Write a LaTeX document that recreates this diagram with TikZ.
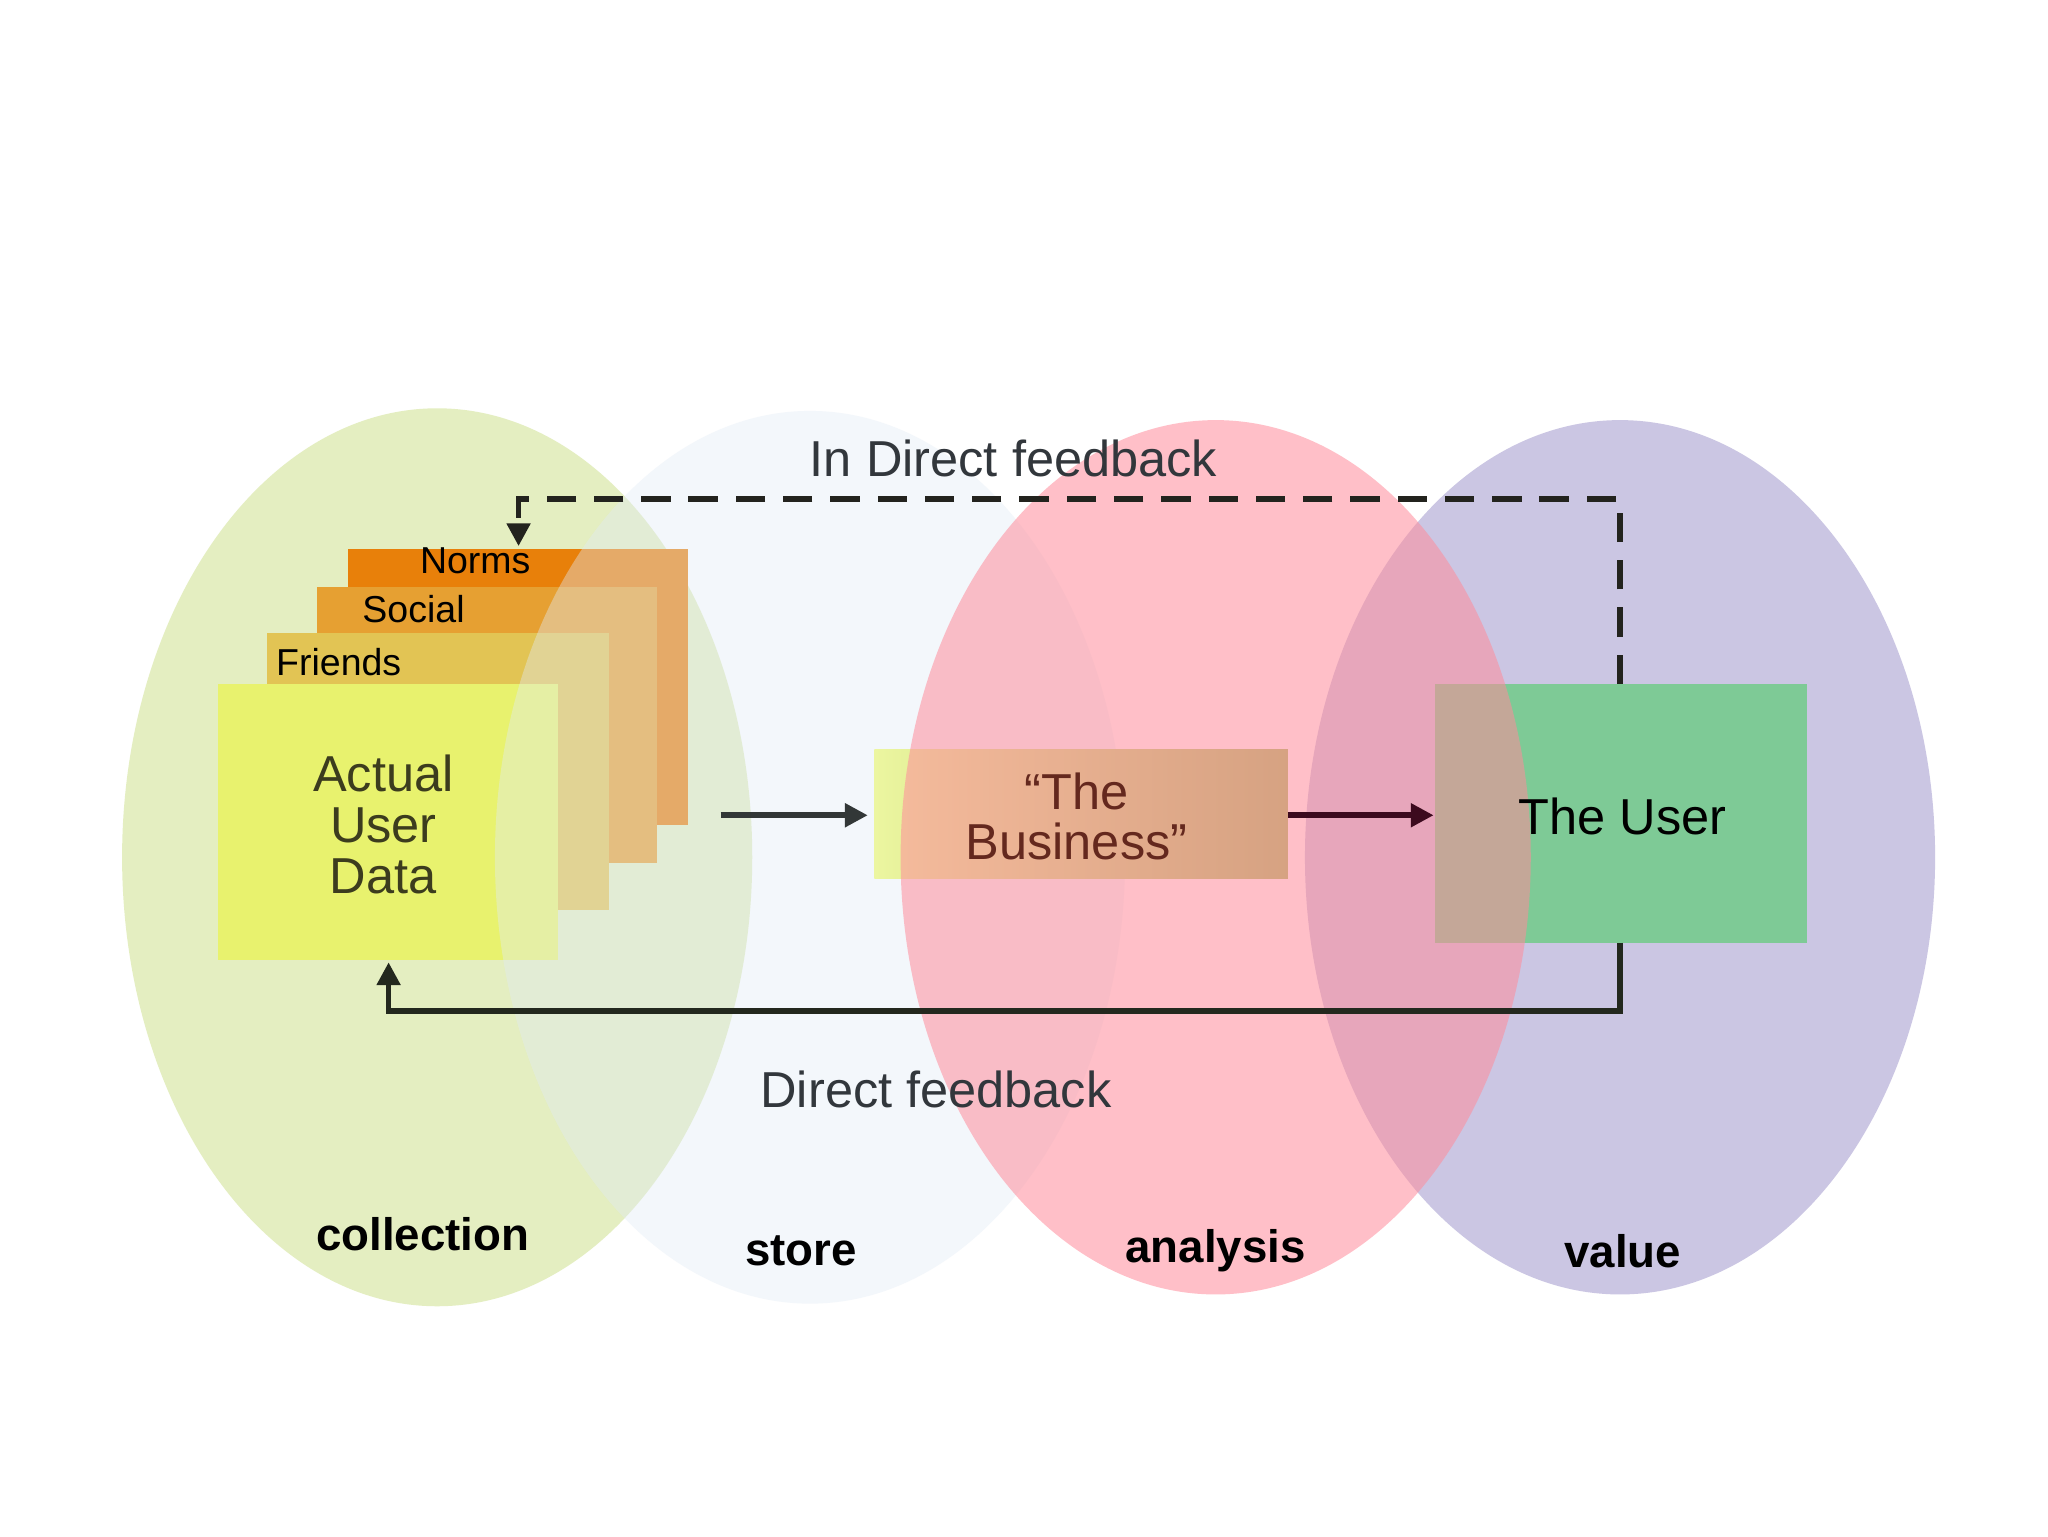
\documentclass[tikz,border=0pt]{standalone}
\usepackage{fontspec}
\setmainfont{Liberation Sans}
\usetikzlibrary{arrows.meta}
\begin{document}
\begin{tikzpicture}[x=0.0283cm,y=-0.0283cm,
  ell/.style={draw=none},
  lab/.style={font=\bfseries\fontsize{28}{32}\selectfont},
  txt/.style={font=\fontsize{31}{35}\selectfont},
  small/.style={font=\fontsize{23}{26}\selectfont},
  card/.style={draw=none,anchor=north west,inner sep=0pt},
  arr/.style={line width=3.4pt,-{Triangle[length=14pt,width=14pt]}}]
\useasboundingbox (0,0) rectangle (1560,1170);
\fill[white] (0,0) rectangle (1560,1170);
\fill[ell,fill opacity=0.8,fill={rgb,255:red,222;green,234;blue,178}] (333,653) ellipse [x radius=240,y radius=342];
\fill[ell,fill opacity=0.8,fill={rgb,255:red,190;green,184;blue,220}] (1234,653) ellipse [x radius=240,y radius=333];
\node[card,fill={rgb,255:red,232;green,128;blue,10},minimum width=259*0.0283cm,minimum height=210*0.0283cm] (norms) at (265,418) {};
\node[card,fill={rgb,255:red,230;green,160;blue,50},minimum width=259*0.0283cm,minimum height=210*0.0283cm] (social) at (241,447) {};
\node[card,fill={rgb,255:red,226;green,196;blue,84},minimum width=261*0.0283cm,minimum height=211*0.0283cm] (friends) at (203,482) {};
\node[card,fill={rgb,255:red,232;green,242;blue,110},minimum width=259*0.0283cm,minimum height=210*0.0283cm] (actual) at (166,521) {};
\fill[ell,fill opacity=0.4,fill={rgb,255:red,225;green,235;blue,245}] (617,653) ellipse [x radius=240,y radius=340];
\node[small] at (362,427) {Norms};
\node[small] at (315,464) {Social};
\node[small] at (258,504) {Friends};
\node[align=center,txt,text={rgb,255:red,60;green,60;blue,30}] at (292,628) {Actual\\[-4pt]User\\[-4pt]Data};
\shade[left color={rgb,255:red,236;green,246;blue,160},right color={rgb,255:red,165;green,190;blue,100}] (666,571) rectangle (981,669);
\node[card,minimum width=315*0.0283cm,minimum height=98*0.0283cm] (biz) at (666,571) {};
\node[card,fill={rgb,255:red,126;green,202;blue,150},minimum width=283*0.0283cm,minimum height=197*0.0283cm] (user) at (1093,521) {};
\fill[ell,fill opacity=0.55,fill={rgb,255:red,255;green,140;blue,155}] (926,653) ellipse [x radius=240,y radius=333];
\node[align=center,txt,text={rgb,255:red,100;green,40;blue,30}] at (820,622) {“The\\[-4pt]Business”};
\node[txt] at (1236,622) {The User};
\coordinate (a1) at (549,621); \coordinate (a2) at (661,621);
\draw[arr,draw={rgb,255:red,50;green,55;blue,55}] (a1) -- (a2);
\coordinate (b1) at (981,621); \coordinate (b2) at (1092,621);
\draw[arr,draw={rgb,255:red,60;green,10;blue,30}] (b1) -- (b2);
\coordinate (d1) at (1234,718); \coordinate (d2) at (296,733);
\draw[arr,draw={rgb,255:red,35;green,40;blue,30}] (d1) |- (1234,770) -| (d2);
\coordinate (i1) at (1234,521); \coordinate (i2) at (395,416);
\draw[arr,dash pattern=on 18pt off 11pt,draw={rgb,255:red,35;green,35;blue,30}] (i1) |- (395,380) -- (i2);
\node[txt,text={rgb,255:red,50;green,55;blue,60}] at (772,349) {In Direct feedback};
\node[txt,text={rgb,255:red,50;green,55;blue,60}] at (713,830) {Direct feedback};
\node[lab] at (322,940) {collection};
\node[lab] at (610,953) {store};
\node[lab] at (926,953) {analysis};
\node[lab] at (1236,953) {value};
\end{tikzpicture}
\end{document}
